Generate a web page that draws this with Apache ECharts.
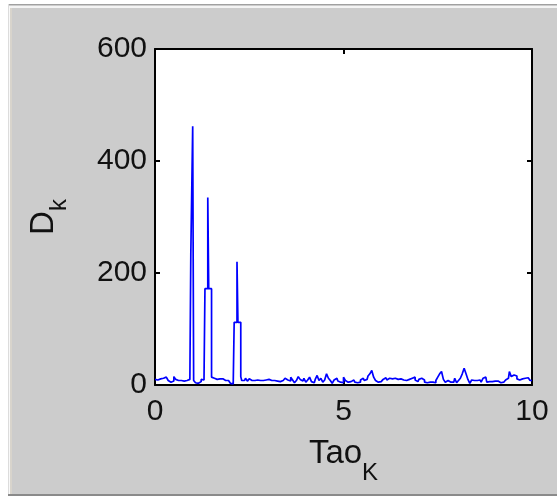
<!DOCTYPE html>
<html>
<head>
<meta charset="utf-8">
<script src="https://cdn.jsdelivr.net/npm/echarts@6/dist/echarts.min.js"></script>
<style>
html,body{margin:0;padding:0;background:#ffffff;}
#chart{width:557px;height:497px;}
</style>
</head>
<body>
<div id="chart"></div>
<script>
// sampling step of Tao_K
var taoStep = 0.025;
// D_k values at Tao_K = 0, 0.025, 0.050, ... 10.000 (one row = 0.5 of Tao_K)
var dkValues = [
10,10,9,9,10,11,9,9,12,12,13,14,12,12,8,8,5,5,6,7,
15,15,10,10,8,8,8,8,8,8,7,7,8,8,11,11,10,10,235,235,
462,8,6,4,4,3,3,6,6,10,10,9,9,172,172,172,335,172,172,172,
14,14,12,12,10,10,12,12,11,11,11,11,9,9,8,8,8,8,7,7,
3,3,2,2,112,112,112,220,112,112,112,15,8,8,8,8,12,12,7,7,
11,11,8,8,8,8,10,10,9,9,8,8,11,11,8,8,9,9,8,8,
10,9,8,8,8,9,8,8,8,7,8,8,6,6,7,8,10,10,12,11,
9,9,7,7,14,14,9,9,4,4,8,8,15,15,10,10,7,7,12,12,
5,5,9,9,14,14,6,6,4,4,10,10,17,17,8,8,12,12,5,5,
9,11,20,18,12,12,8,8,3,3,9,9,12,11,7,7,5,5,4,4,
14,14,8,8,5,5,6,6,5,5,9,9,5,5,4,4,5,5,9,9,
12,12,8,8,10,10,16,16,20,20,26,26,14,14,8,8,5,5,6,6,
4,4,10,10,13,13,9,9,12,12,11,11,9,9,12,12,10,10,8,8,
11,11,9,9,12,12,8,8,10,10,7,7,12,12,14,14,9,9,6,6,
10,10,12,12,9,9,5,5,4,4,5,5,3,3,5,5,4,4,8,8,
14,14,20,20,24,24,10,10,5,5,8,8,5,5,4,4,5,5,12,12,
4,4,8,8,12,12,20,20,30,30,20,20,10,10,3,3,9,9,8,8,
8,8,6,6,9,9,5,5,12,12,14,14,5,5,6,6,6,6,7,7,
7,7,7,7,4,4,4,4,5,5,6,6,9,9,12,12,24,24,15,15,
18,18,16,16,11,11,9,9,11,11,8,8,12,12,13,13,10,10,8,8,
9
];
var xTicks = [0, 5, 10];
var yTicks = [0, 200, 400, 600];
var xLabelName = '{a|Tao}{b|K}';
var yLabelName = '{a|D}{b|k}';

var seriesData = dkValues.map(function (v, i) { return [+(i * taoStep).toFixed(3), v]; });

var chart = echarts.init(document.getElementById('chart'), null, {renderer: 'canvas'});
var fontFam = 'Liberation Sans, Arial, sans-serif';
var option = {
  backgroundColor: '#cccccc',
  animation: false,
  graphic: [
    {type: 'rect', z: -10, shape: {x: 0, y: 0, width: 8, height: 497}, style: {fill: '#ffffff'}},
    {type: 'rect', z: -10, shape: {x: 0, y: 0, width: 557, height: 4}, style: {fill: '#ffffff'}},
    {type: 'rect', z: -10, shape: {x: 0, y: 496, width: 557, height: 1}, style: {fill: '#ffffff'}},
    {type: 'rect', z: -10, shape: {x: 8, y: 4, width: 549, height: 1}, style: {fill: '#a0a0a0'}},
    {type: 'rect', z: -10, shape: {x: 9, y: 6, width: 548, height: 2}, style: {fill: '#f4f4f4'}},
    {type: 'rect', z: -10, shape: {x: 8, y: 4, width: 1, height: 492}, style: {fill: '#dcdcdc'}},
    {type: 'rect', z: -10, shape: {x: 9, y: 6, width: 1, height: 489}, style: {fill: '#f8f8f8'}},
    {type: 'rect', z: -10, shape: {x: 10, y: 8, width: 2, height: 487}, style: {fill: '#d8d4cc'}},
    {type: 'rect', z: -10, shape: {x: 8, y: 494, width: 549, height: 2}, style: {fill: '#8a8a8a'}}
  ],
  grid: {
    left: 155, top: 49, right: 25, bottom: 112,
    show: true, backgroundColor: '#ffffff', borderWidth: 0,
    outerBoundsMode: 'none', containLabel: false
  },
  xAxis: [{
    type: 'value', min: 0, max: 10, interval: 5, position: 'bottom',
    axisLine: {show: true, onZero: false, lineStyle: {color: '#000', width: 2}},
    axisTick: {show: true, inside: true, length: 5, lineStyle: {color: '#000', width: 2}},
    axisLabel: {show: true, color: '#111', fontSize: 30, fontFamily: fontFam, margin: 12,
      customValues: xTicks},
    splitLine: {show: false},
    name: xLabelName, nameLocation: 'middle', nameGap: 52,
    nameTextStyle: {
      rich: {
        a: {fontSize: 33, fontFamily: fontFam, color: '#111', verticalAlign: 'top', lineHeight: 48},
        b: {fontSize: 24, fontFamily: fontFam, color: '#111', verticalAlign: 'bottom', lineHeight: 48}
      }
    }
  }, {
    type: 'value', min: 0, max: 10, interval: 5, position: 'top',
    axisLine: {show: true, onZero: false, lineStyle: {color: '#000', width: 2}},
    axisTick: {show: true, inside: true, length: 5, lineStyle: {color: '#000', width: 2}},
    axisLabel: {show: false},
    splitLine: {show: false}
  }],
  yAxis: [{
    type: 'value', min: 0, max: 600, interval: 200, position: 'left',
    axisLine: {show: true, onZero: false, lineStyle: {color: '#000', width: 2}},
    axisTick: {show: true, inside: true, length: 5, lineStyle: {color: '#000', width: 2}},
    axisLabel: {show: true, color: '#111', fontSize: 30, fontFamily: fontFam, margin: 8,
      customValues: yTicks},
    splitLine: {show: false},
    name: yLabelName, nameLocation: 'middle', nameGap: 84, nameRotate: 90,
    nameTextStyle: {
      rich: {
        a: {fontSize: 33, fontFamily: fontFam, color: '#111', verticalAlign: 'top', lineHeight: 44},
        b: {fontSize: 24, fontFamily: fontFam, color: '#111', verticalAlign: 'bottom', lineHeight: 44}
      }
    }
  }, {
    type: 'value', min: 0, max: 600, interval: 200, position: 'right',
    axisLine: {show: true, onZero: false, lineStyle: {color: '#000', width: 2}},
    axisTick: {show: true, inside: true, length: 5, lineStyle: {color: '#000', width: 2}},
    axisLabel: {show: false},
    splitLine: {show: false}
  }],
  series: [{
    type: 'line',
    xAxisIndex: 0, yAxisIndex: 0,
    data: seriesData,
    step: 'end',
    showSymbol: false,
    symbol: 'none',
    lineStyle: {color: '#0000ff', width: 1.7},
    itemStyle: {color: '#0000ff'},
    z: 3
  }]
};
chart.setOption(option);
</script>
</body>
</html>
